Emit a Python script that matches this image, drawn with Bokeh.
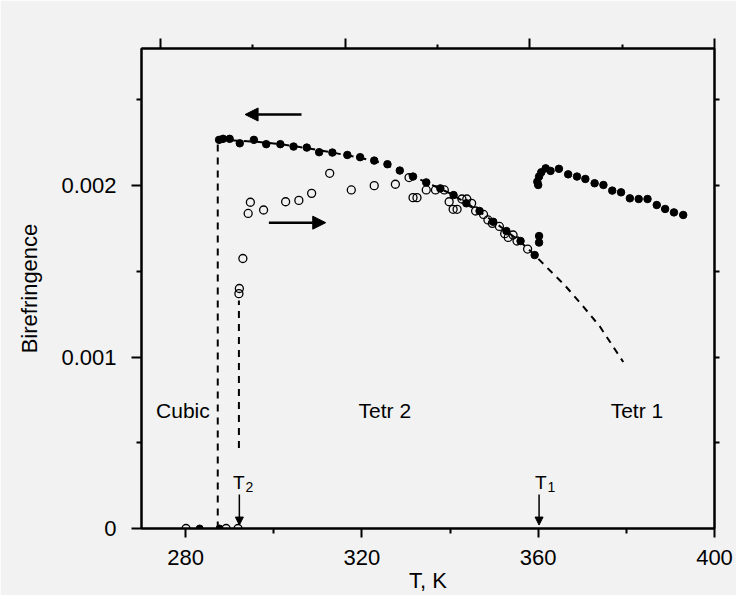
from bokeh.plotting import figure
from bokeh.models import (Range1d, LinearAxis, FixedTicker, Arrow, NormalHead,
                          CustomJSTickFormatter)
from bokeh.core.properties import value
from bokeh.embed import file_html
from bokeh.resources import INLINE

# ---------------- data ----------------
# cooling run, Tetr 2 branch (filled circles), birefringence in units of 1e-3
cool_T = [287.6, 288.5, 290.0, 292.3, 295.5, 298.3, 301.5, 304.5, 307.5, 310.3,
          313.3, 316.7, 319.6, 322.8, 325.8, 328.6, 331.6, 334.6, 337.8, 340.8,
          343.7, 346.7, 349.8, 352.8, 356.0, 359.2, 360.2, 360.2]
cool_B = [2.267, 2.273, 2.273, 2.247, 2.267, 2.242, 2.242, 2.228, 2.222, 2.195,
          2.193, 2.179, 2.166, 2.146, 2.125, 2.088, 2.053, 2.019, 1.984, 1.945,
          1.897, 1.852, 1.789, 1.735, 1.677, 1.595, 1.668, 1.706]
# Tetr 1 branch (filled circles)
tetr1_T = [360.0, 359.8, 360.2, 360.7, 361.7, 362.8, 364.7, 366.8, 368.8, 370.7,
           372.8, 374.8, 376.8, 378.8, 380.8, 382.8, 384.8, 386.9, 388.8, 390.8, 392.9]
tetr1_B = [2.004, 2.023, 2.053, 2.078, 2.101, 2.086, 2.098, 2.066, 2.053, 2.039,
           2.014, 2.004, 1.971, 1.961, 1.926, 1.922, 1.922, 1.887, 1.864, 1.844, 1.829]
# filled points on the zero line (cubic phase)
zero_fill_T = [283.2, 287.7]
zero_fill_B = [0.0, 0.0]
# heating run (open circles)
heat_T = [280.1, 289.2, 291.9, 292.1, 292.2, 293.0, 294.2, 294.7, 297.7, 302.7,
          305.7, 308.6, 312.7, 317.6, 322.8, 327.6, 330.7, 331.6, 332.5, 334.6,
          336.7, 338.7, 339.8, 340.7, 341.6, 342.7, 343.8, 344.9, 345.8, 347.6,
          348.6, 349.6, 351.2, 352.4, 353.2, 354.3, 355.2, 357.6]
heat_B = [0.0, 0.0, 0.0, 1.370, 1.400, 1.575, 1.838, 1.903, 1.858, 1.906,
          1.914, 1.955, 2.072, 1.975, 2.000, 2.008, 2.047, 1.930, 1.930, 1.975,
          1.975, 1.975, 1.906, 1.862, 1.862, 1.922, 1.922, 1.897, 1.852, 1.832,
          1.800, 1.780, 1.762, 1.720, 1.698, 1.712, 1.677, 1.630]
# dashed guide curve through the cooling data and its extrapolation
fit_T = [287.3, 292, 296, 300, 304, 308, 312, 316, 320, 324, 328, 332, 336, 340,
         344, 348, 352, 356, 359, 362, 366, 370, 374, 379.3]
fit_B = [2.270, 2.262, 2.256, 2.246, 2.233, 2.217, 2.199, 2.180, 2.160, 2.135,
         2.097, 2.050, 2.003, 1.955, 1.895, 1.825, 1.750, 1.672, 1.600, 1.522,
         1.420, 1.302, 1.178, 0.971]
# vertical dashed lines (transition jumps)
jump1_T = [287.3, 287.3]
jump1_B = [0.0, 2.270]
jump2_T = [292.1, 292.1]
jump2_B = [0.47, 1.33]

phase_labels = ["Cubic", "Tetr 2", "Tetr 1"]
phase_T = [279.4, 325.2, 382.4]
phase_B = [0.69, 0.69, 0.69]

x_ticks = [280, 320, 360, 400]
x_minor = [300, 340, 380]
y_ticks = [0.0, 0.001, 0.002]
y_minor = [0.0005, 0.0015, 0.0025]

S = 1e-3
sc = lambda a: [v * S for v in a]

BG = "#f2f2f2"
FONT = value("Liberation Sans")

p = figure(frame_width=573, frame_height=480, x_range=Range1d(270, 400), y_range=Range1d(0, 0.0028),
           output_backend="svg", toolbar_location=None,
           min_border_left=0, min_border_top=0, min_border_right=22, min_border_bottom=0,
           background_fill_color=BG, border_fill_color=BG,
           outline_line_color="black", outline_line_width=2)
p.grid.visible = False

xa = p.xaxis[0]
ya = p.yaxis[0]
for ax in (xa, ya):
    ax.axis_line_width = 2
    ax.major_tick_line_width = 2
    ax.minor_tick_line_width = 2
    ax.major_tick_in = 0
    ax.minor_tick_in = 0
    ax.major_label_text_font = "Liberation Sans"
    ax.major_label_text_font_size = "22px"
    ax.major_label_text_color = "black"
    ax.axis_label_text_font = "Liberation Sans"
    ax.axis_label_text_font_size = "22px"
    ax.axis_label_text_font_style = "normal"
    ax.axis_label_text_color = "black"

xa.ticker = FixedTicker(ticks=x_ticks, minor_ticks=x_minor)
xa.axis_label = "T, K"
xa.major_tick_out = 9
xa.minor_tick_out = 5
xa.major_label_standoff = 12
xa.axis_label_standoff = 0

ya.ticker = FixedTicker(ticks=y_ticks, minor_ticks=y_minor)
ya.formatter = CustomJSTickFormatter(code="return tick == 0 ? '0' : tick.toFixed(3);")
ya.axis_label = "Birefringence"
ya.major_tick_out = 10
ya.minor_tick_out = 5
ya.major_label_standoff = 15
ya.axis_label_standoff = 16

# top axis (own tick spacing, as in the original)
p.extra_x_ranges = {"top": Range1d(-0.208, 6.0)}
ta = LinearAxis(x_range_name="top", ticker=FixedTicker(ticks=[0, 2, 4, 6], minor_ticks=[1, 3, 5]),
                formatter=CustomJSTickFormatter(code="return '';"),
                major_label_text_font_size="0px", major_label_standoff=0,
                axis_line_width=2, major_tick_line_width=2, minor_tick_line_width=2,
                major_tick_in=0, minor_tick_in=0, major_tick_out=10, minor_tick_out=4)
p.add_layout(ta, "above")

# right axis
ra = LinearAxis(ticker=FixedTicker(ticks=[0.0005, 0.001, 0.0015, 0.002, 0.0025], minor_ticks=[]),
                formatter=CustomJSTickFormatter(code="return '';"),
                major_label_text_font_size="0px", major_label_standoff=0,
                axis_line_width=2, major_tick_line_width=2,
                major_tick_in=0, major_tick_out=5, minor_tick_in=0, minor_tick_out=0)
p.add_layout(ra, "right")

# blank padding panels on the outer side of the real axes (invisible ticks)
pad_left = LinearAxis(ticker=FixedTicker(ticks=[0.0014], minor_ticks=[]),
                      formatter=CustomJSTickFormatter(code="return '';"),
                      major_label_text_font_size="0px", major_label_standoff=0,
                      axis_line_color=None, major_tick_line_color=None, minor_tick_line_color=None,
                      major_tick_in=0, major_tick_out=14, minor_tick_in=0, minor_tick_out=0)
p.add_layout(pad_left, "left")
pad_top = LinearAxis(x_range_name="top", ticker=FixedTicker(ticks=[3], minor_ticks=[]),
                     formatter=CustomJSTickFormatter(code="return '';"),
                     major_label_text_font_size="0px", major_label_standoff=0,
                     axis_line_color=None, major_tick_line_color=None, minor_tick_line_color=None,
                     major_tick_in=0, major_tick_out=38, minor_tick_in=0, minor_tick_out=0)
p.add_layout(pad_top, "above")

dash = "7 6"
p.line(fit_T, sc(fit_B), line_color="black", line_width=2, line_dash=dash)
p.line(jump1_T, sc(jump1_B), line_color="black", line_width=2, line_dash=dash)
p.line(jump2_T, sc(jump2_B), line_color="black", line_width=2, line_dash=dash)

p.scatter(heat_T, sc(heat_B), size=8, marker="circle", fill_color=None,
          line_color="black", line_width=1.3)
p.scatter(cool_T, sc(cool_B), size=7.5, marker="circle", fill_color="black", line_color="black")
p.scatter(tetr1_T, sc(tetr1_B), size=7.5, marker="circle", fill_color="black", line_color="black")
p.scatter(zero_fill_T, zero_fill_B, size=7, marker="circle", fill_color="black", line_color="black")

p.add_layout(Arrow(x_start=306.3, y_start=0.002415, x_end=293.5, y_end=0.002415,
                   line_width=2.5, end=NormalHead(size=13, fill_color="black", line_color="black")))
p.add_layout(Arrow(x_start=298.9, y_start=0.001784, x_end=311.8, y_end=0.001784,
                   line_width=2.5, end=NormalHead(size=13, fill_color="black", line_color="black")))
p.add_layout(Arrow(x_start=292.2, y_start=0.000199, x_end=292.2, y_end=0.00002,
                   line_width=1.5, end=NormalHead(size=8, fill_color="black", line_color="black")))
p.add_layout(Arrow(x_start=360.2, y_start=0.000199, x_end=360.2, y_end=0.00002,
                   line_width=1.5, end=NormalHead(size=8, fill_color="black", line_color="black")))

p.text(phase_T, sc(phase_B), text=phase_labels, text_font=FONT, text_font_size="21px",
       text_align="center", text_baseline="middle", text_color="black")
p.text([292.1, 360.6], [0.000269, 0.000269], text=["T", "T"], text_font=FONT,
       text_font_size="19px", text_align="center", text_baseline="alphabetic", text_color="black")
p.text([293.6, 362.1], [0.000245, 0.000245], text=["2", "1"], text_font=FONT,
       text_font_size="14px", text_align="left", text_baseline="alphabetic", text_color="black")

open("out.html", "w").write(file_html(p, INLINE))
